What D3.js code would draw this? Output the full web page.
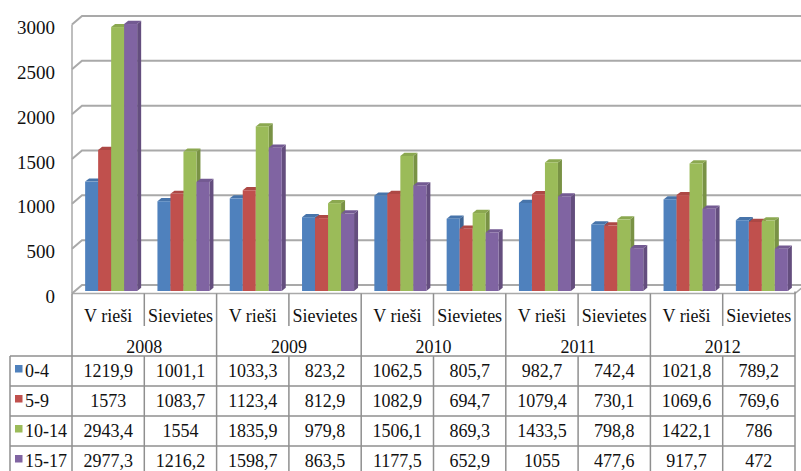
<!DOCTYPE html>
<html>
<head>
<meta charset="utf-8">
<script src="https://cdn.jsdelivr.net/npm/d3@7"></script>
<style>
  html, body { margin: 0; padding: 0; background: #fff; }
  svg { display: block; }
  svg text { font-family: "Liberation Serif", "Times New Roman", Times, "DejaVu Serif", serif !important; fill: #111; }
</style>
</head>
<body>
<svg id="chart" width="801" height="471" font-family="Liberation Serif, Times New Roman, serif"></svg>
<script>
// ---- data ----
const years = ["2008", "2009", "2010", "2011", "2012"];
const subCategories = ["V rieši", "Sievietes"];
const seriesNames = ["0-4", "5-9", "10-14", "15-17"];
const seriesColors = ["#4F81BD", "#C0504D", "#9BBB59", "#8064A2"];
const values04   = [1219.9, 1001.1, 1033.3, 823.2, 1062.5, 805.7, 982.7, 742.4, 1021.8, 789.2];
const values59   = [1573, 1083.7, 1123.4, 812.9, 1082.9, 694.7, 1079.4, 730.1, 1069.6, 769.6];
const values1014 = [2943.4, 1554, 1835.9, 979.8, 1506.1, 869.3, 1433.5, 798.8, 1422.1, 786];
const values1517 = [2977.3, 1216.2, 1598.7, 863.5, 1177.5, 652.9, 1055, 477.6, 917.7, 472];
const yTicks = [0, 500, 1000, 1500, 2000, 2500, 3000];

const seriesValues = [values04, values59, values1014, values1517];
const columns = [];
years.forEach(y => subCategories.forEach(c => columns.push({ year: y, cat: c, key: y + "|" + c })));

// ---- layout ----
const FONT = "'Liberation Serif', 'Times New Roman', Times, 'DejaVu Serif', serif";
const svg = d3.select("#chart");
const DX = 10, DY = -8.5;          // wall depth
const BDX = 4, BDY = -3.2;         // bar depth
const BOX = 3, BOY = -2.5;         // bar front-plane offset
const gridColor = "#a9a9a9";
const tableColor = "#8f8f8f";

const x = d3.scaleBand().domain(columns.map(d => d.key)).range([72, 795]).paddingInner(0).paddingOuter(0);
const xs = d3.scaleBand().domain(seriesNames).range([0, x.bandwidth()]).paddingInner(0).paddingOuter(0.78);
const y = d3.scaleLinear().domain([0, 3000]).range([293.5, 24.5]);

// ---- back wall grid lines ----
const grid = svg.append("g");
yTicks.forEach(t => {
  const p = d3.path();
  p.moveTo(72, y(t));
  p.lineTo(72 + DX, y(t) + DY);
  p.lineTo(801, y(t) + DY);
  grid.append("path").attr("d", p.toString()).attr("fill", "none")
    .attr("stroke", gridColor).attr("stroke-width", 2);
});
// left wall front edge
grid.append("line").attr("x1", 72).attr("x2", 72).attr("y1", y(3000)).attr("y2", y(0))
  .attr("stroke", gridColor).attr("stroke-width", 1.5);
// floor front and right edge
const floor = d3.path();
floor.moveTo(72, y(0)); floor.lineTo(795, y(0)); floor.lineTo(795 + DX, y(0) + DY);
grid.append("path").attr("d", floor.toString()).attr("fill", "none")
  .attr("stroke", gridColor).attr("stroke-width", 1.5);

// ---- y axis labels ----
const yAxis = d3.axisLeft(y).tickValues(yTicks).tickSize(0).tickPadding(3).tickFormat(d3.format("d"));
svg.append("g").attr("transform", "translate(58,3)").call(yAxis)
  .attr("font-family", FONT)
  .call(g => g.select(".domain").remove())
  .selectAll("text").style("font-family", FONT).style("font-size", "19px").attr("fill", "#111");

// ---- bars ----
const bars = svg.append("g");
function shade(c, k) { return d3.color(c).darker(k).toString(); }
columns.forEach((col, ci) => {
  seriesNames.forEach((s, si) => {
    const v = seriesValues[si][ci];
    const color = seriesColors[si];
    const x0 = x(col.key) + xs(s) + BOX;
    const w = xs.bandwidth();
    const yt = y(v) + BOY, yb = y(0) + BOY;
    const g = bars.append("g");
    g.append("path").attr("d", `M${x0 + w},${yt}L${x0 + w + BDX},${yt + BDY}L${x0 + w + BDX},${yb + BDY}L${x0 + w},${yb}Z`)
      .attr("fill", shade(color, 0.7));
    g.append("path").attr("d", `M${x0},${yt}L${x0 + w},${yt}L${x0 + w + BDX},${yt + BDY}L${x0 + BDX},${yt + BDY}Z`)
      .attr("fill", shade(color, 0.3));
    g.append("rect").attr("x", x0).attr("y", yt).attr("width", w).attr("height", yb - yt)
      .attr("fill", color);
  });
});

// ---- data table ----
const table = svg.append("g").attr("font-family", FONT);
const rowTop = 356, rowH = 30;
const tableLeft = 10, tableRight = 795;
function line(x1, y1, x2, y2) {
  table.append("line").attr("x1", x1).attr("y1", y1).attr("x2", x2).attr("y2", y2)
    .attr("stroke", tableColor).attr("stroke-width", 1.5);
}
columns.forEach((col, ci) => {
  const xx = x(col.key);
  if (ci % 2 === 0) {
    line(xx, y(0), xx, 471);
  } else {
    line(xx, y(0), xx, 326);
    line(xx, rowTop, xx, 471);
  }
});
line(tableRight, y(0) - 2, tableRight, 471);
line(tableLeft, rowTop, tableLeft, 471);
for (let r = 0; r < seriesNames.length; r++) line(tableLeft, rowTop + r * rowH, tableRight, rowTop + r * rowH);

function txt(xp, yp, s, anchor) {
  return table.append("text").attr("x", xp).attr("y", yp).attr("dy", "0.35em")
    .attr("text-anchor", anchor || "middle")
    .style("font-family", FONT).style("font-size", "18px").text(s);
}
columns.forEach(col => txt(x(col.key) + x.bandwidth() / 2, 316, col.cat));
years.forEach(yr => txt(x(yr + "|" + subCategories[0]) + x.bandwidth(), 347, yr));
seriesNames.forEach((s, si) => {
  const cy = rowTop + si * rowH + rowH / 2;
  table.append("rect").attr("x", 15).attr("y", cy - 6).attr("width", 7.5).attr("height", 7.5)
    .attr("fill", seriesColors[si]);
  txt(25, cy, s, "start");
  columns.forEach((col, ci) => {
    txt(x(col.key) + x.bandwidth() / 2, cy, String(seriesValues[si][ci]).replace(".", ","));
  });
});
</script>
</body>
</html>
